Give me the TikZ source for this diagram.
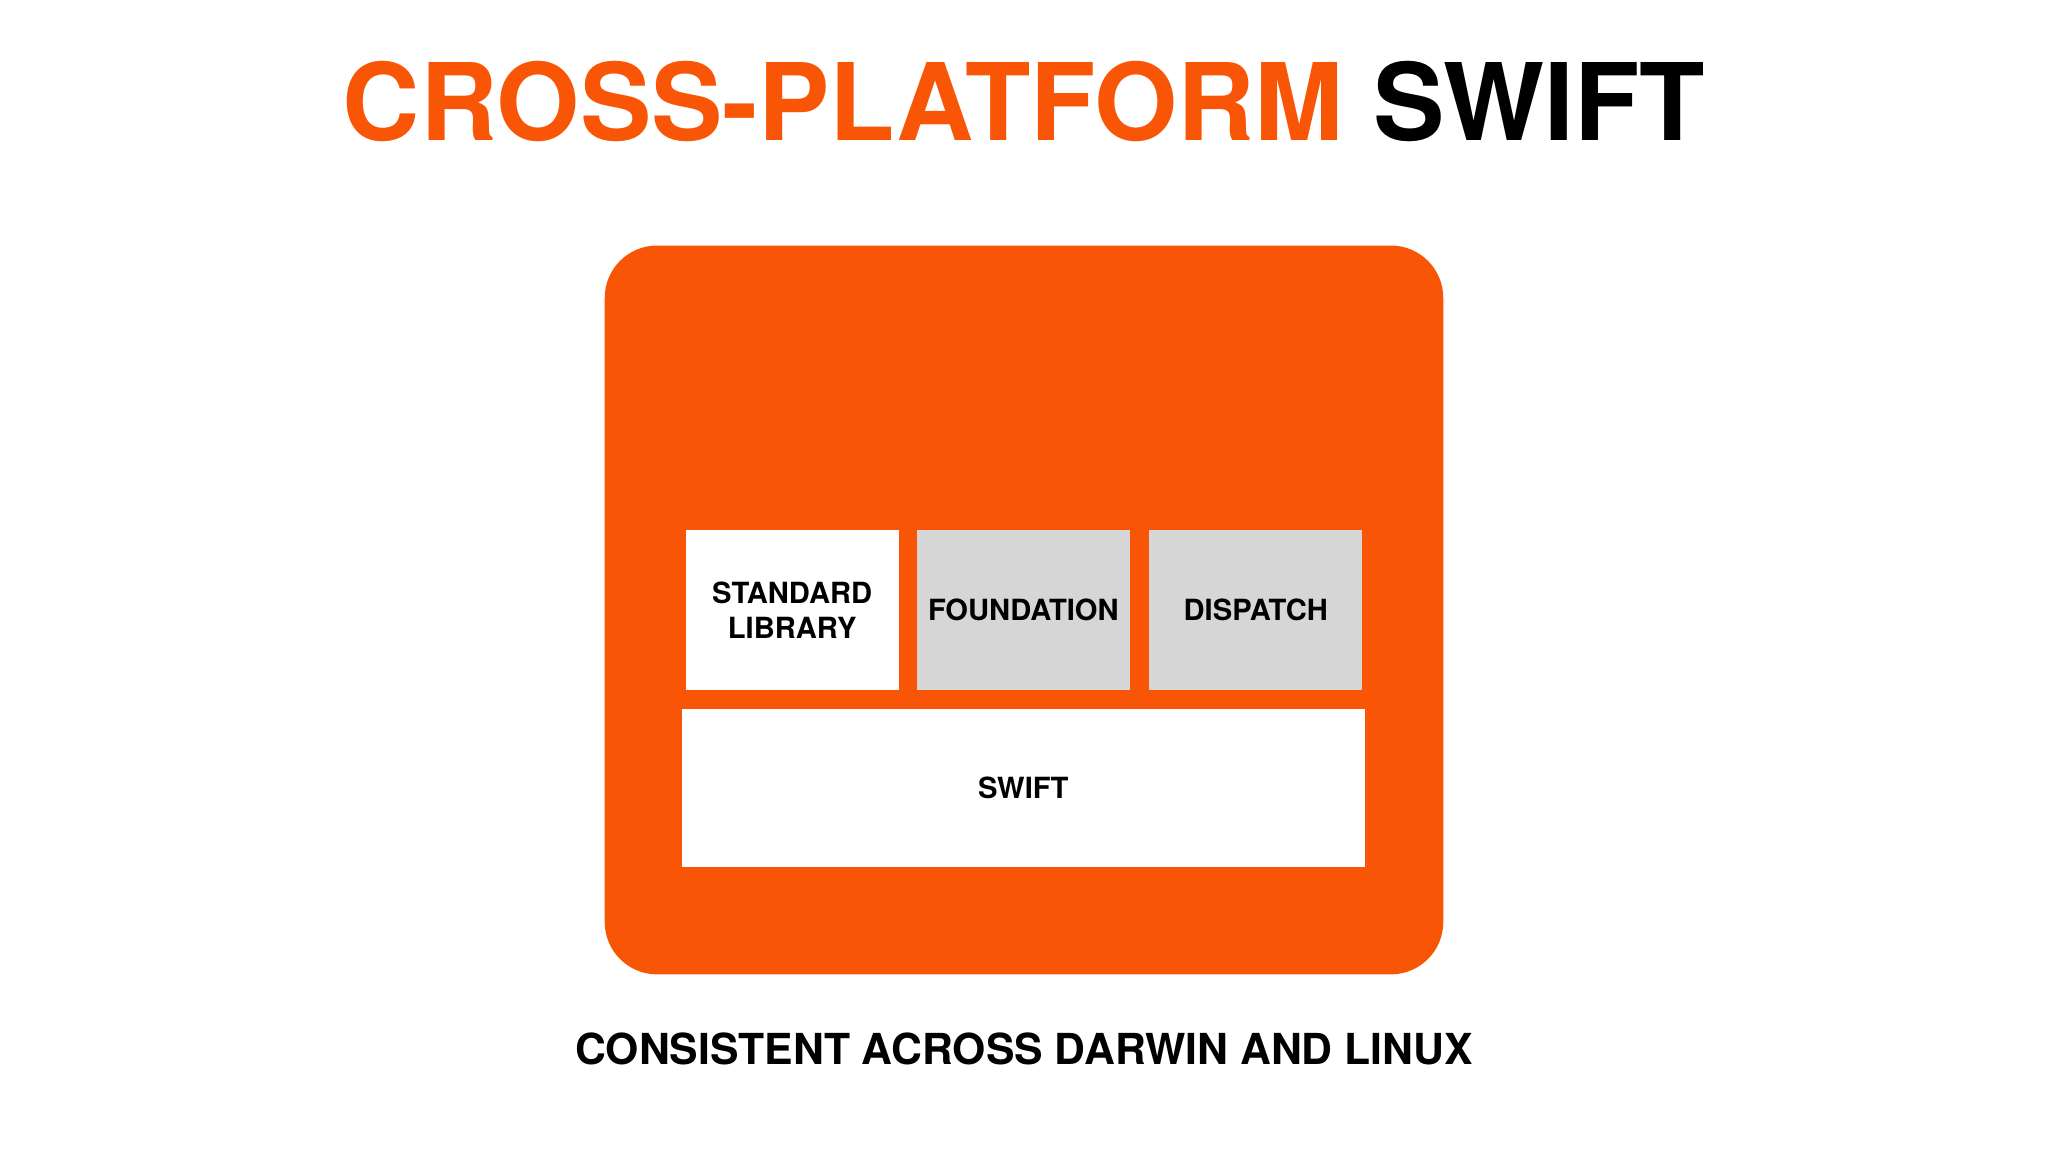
\documentclass[tikz,border=0pt]{standalone}
\usepackage{fontspec}
\setmainfont{TeX Gyre Heros}
\definecolor{sorange}{HTML}{F95506}
\definecolor{sgray}{HTML}{D6D6D6}
\begin{document}
\begin{tikzpicture}[x=0.01cm,y=-0.01cm,
  blk/.style={inner sep=0pt,align=center,font=\bfseries\fontsize{6.35}{7.6}\selectfont}]
\useasboundingbox (0,0) rectangle (1568,882);
\fill[white] (0,0) rectangle (1568,882);
\node[font=\bfseries\fontsize{23.3}{26}\selectfont] (title) at (784,78) {\textcolor{sorange}{CROSS-PLATFORM} SWIFT};
\fill[sorange,rounded corners=0.4cm] (463,188) rectangle (1105,746);
\fill[white] (525,406) rectangle (688,528);
\fill[sgray] (702,406) rectangle (865,528);
\fill[sgray] (880,406) rectangle (1043,528);
\fill[white] (522,543) rectangle (1045,664);
\node[blk] (std) at (606.5,467) {STANDARD\\LIBRARY};
\node[blk] (fnd) at (783.5,467) {FOUNDATION};
\node[blk] (dsp) at (961.5,467) {DISPATCH};
\node[blk] (swf) at (783.5,603.5) {SWIFT};
\node[font=\bfseries\fontsize{9.3}{11}\selectfont] (sub) at (784,803) {CONSISTENT ACROSS DARWIN AND LINUX};
\end{tikzpicture}
\end{document}
